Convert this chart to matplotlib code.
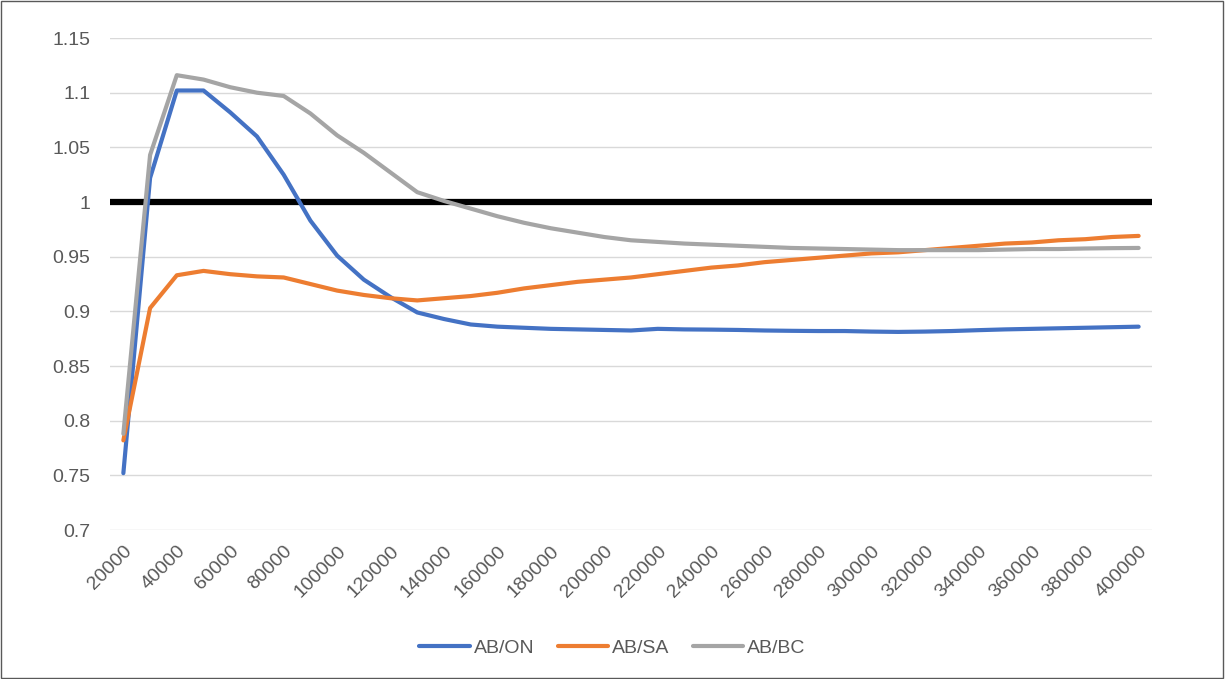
import matplotlib.pyplot as plt
from matplotlib.patches import Rectangle

# x categories (every 10000)
x_vals = [20000, 30000, 40000, 50000, 60000, 70000, 80000, 90000, 100000,
          110000, 120000, 130000, 140000, 150000, 160000, 170000, 180000,
          190000, 200000, 210000, 220000, 230000, 240000, 250000, 260000,
          270000, 280000, 290000, 300000, 310000, 320000, 330000, 340000,
          350000, 360000, 370000, 380000, 390000, 400000]

ab_on = [0.752, 1.022, 1.102, 1.102, 1.082, 1.060, 1.025, 0.983, 0.951,
         0.929, 0.913, 0.899, 0.893, 0.888, 0.886, 0.885, 0.884, 0.8835,
         0.883, 0.8825, 0.884, 0.8835, 0.8833, 0.883, 0.8825, 0.8822, 0.882,
         0.882, 0.8815, 0.8812, 0.8815, 0.882, 0.8828, 0.8835, 0.884, 0.8845,
         0.885, 0.8855, 0.886]

ab_sa = [0.782, 0.903, 0.933, 0.937, 0.934, 0.932, 0.931, 0.925, 0.919,
         0.915, 0.912, 0.910, 0.912, 0.914, 0.917, 0.921, 0.924, 0.927,
         0.929, 0.931, 0.934, 0.937, 0.940, 0.942, 0.945, 0.947, 0.949,
         0.951, 0.953, 0.954, 0.956, 0.958, 0.960, 0.962, 0.963, 0.965,
         0.966, 0.968, 0.969]

ab_bc = [0.788, 1.043, 1.116, 1.112, 1.105, 1.100, 1.097, 1.081, 1.061,
         1.045, 1.027, 1.009, 1.001, 0.994, 0.987, 0.981, 0.976, 0.972,
         0.968, 0.965, 0.9635, 0.962, 0.961, 0.960, 0.959, 0.958, 0.9575,
         0.957, 0.9565, 0.956, 0.956, 0.956, 0.956, 0.9565, 0.957, 0.957,
         0.9575, 0.9578, 0.958]

x_labels = [str(v) for v in range(20000, 400001, 20000)]
y_ticks = [0.7, 0.75, 0.8, 0.85, 0.9, 0.95, 1, 1.05, 1.1, 1.15]

plt.rcParams['font.family'] = ['Liberation Sans', 'DejaVu Sans']
text_col = '#595959'

fig = plt.figure(figsize=(12.25, 6.79), dpi=100)
ax = fig.add_axes([0.0898, 0.2194, 0.8506, 0.7246])

ax.plot(x_vals, ab_on, color='#4472C4', lw=3, label='AB/ON', solid_capstyle='round')
ax.plot(x_vals, ab_sa, color='#ED7D31', lw=3, label='AB/SA', solid_capstyle='round')
ax.plot(x_vals, ab_bc, color='#A5A5A5', lw=3, label='AB/BC', solid_capstyle='round')
ax.axhline(1.0, color='black', lw=4.5, zorder=1)

ax.set_xlim(15000, 405000)
ax.set_ylim(0.7, 1.15)
ax.set_yticks(y_ticks)
ax.set_yticklabels([('%g' % v) for v in y_ticks])
ax.set_xticks(list(range(20000, 400001, 20000)))
ax.set_xticklabels(x_labels, rotation=45, ha='right', rotation_mode='anchor')
ax.tick_params(axis='both', length=0, labelsize=14, colors=text_col)
ax.tick_params(axis='y', pad=14)
ax.tick_params(axis='x', pad=9)
ax.grid(axis='y', color='#D9D9D9', lw=1, zorder=0)
ax.set_axisbelow(True)
for s in ax.spines.values():
    s.set_visible(False)

leg = fig.legend(loc='center', bbox_to_anchor=(0.5, 0.046), ncol=3, frameon=False,
                 handlelength=2.6, handletextpad=0.2, columnspacing=1.2,
                 fontsize=14)
for t in leg.get_texts():
    t.set_color(text_col)

fig.patches.append(Rectangle((0.001, 0.001), 0.997, 0.997, transform=fig.transFigure,
                             fill=False, edgecolor='#595959', lw=1))

fig.savefig('out.png', dpi=100)
